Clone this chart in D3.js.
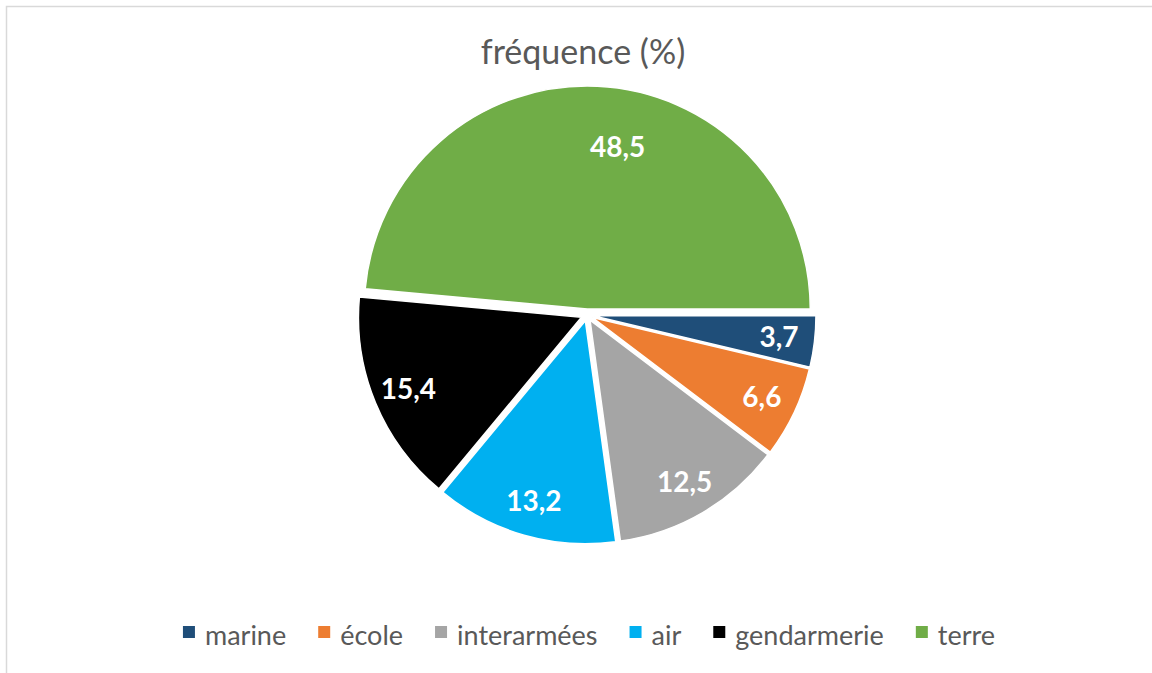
<!DOCTYPE html>
<html>
<head>
<meta charset="utf-8">
<script src="https://cdn.jsdelivr.net/npm/d3@7"></script>
<style>
  body { margin: 0; background: #fff; }
  text { font-family: Lato, "Open Sans", sans-serif; }
</style>
</head>
<body>
<div id="chart"></div>
<script>
const width = 1152
const height = 673

// data
const categories = ["marine", "école", "interarmées", "air", "gendarmerie", "terre"]
const values = [3.7, 6.6, 12.5, 13.2, 15.4, 48.5]
const colors = ["#1F4E79", "#ED7D31", "#A5A5A5", "#00B0F0", "#000000", "#70AD47"]
const title = "fréquence (%)"

const cx = 587
const cy = 315
const radius = 223
const explode = 6

const svg = d3.select("#chart").append("svg")
  .attr("width", width)
  .attr("height", height)

// chart frame
svg.append("rect")
  .attr("x", 6.5).attr("y", 6.5)
  .attr("width", 1200).attr("height", 800)
  .attr("fill", "#fff")
  .attr("stroke", "#d9d9d9")
  .attr("stroke-width", 1.5)

svg.append("text")
  .attr("x", 583)
  .attr("y", 64)
  .attr("text-anchor", "middle")
  .attr("fill", "#595959")
  .style("font-size", "34px")
  .text(title)

const data = categories.map((c, i) => ({ name: c, value: values[i], color: colors[i] }))

// first slice starts at 3 o'clock, clockwise
const pie = d3.pie()
  .value(d => d.value)
  .sort(null)
  .startAngle(Math.PI / 2)
  .endAngle(Math.PI / 2 + 2 * Math.PI)

const arc = d3.arc().innerRadius(0).outerRadius(radius)
const arcs = pie(data)

const g = svg.append("g").attr("transform", "translate(" + cx + "," + cy + ")")

function mid(d) { return (d.startAngle + d.endAngle) / 2 }

const slice = g.selectAll("g.slice")
  .data(arcs)
  .enter()
  .append("g")
  .attr("class", "slice")
  .attr("transform", function (d) {
    const a = mid(d)
    return "translate(" + (Math.sin(a) * explode) + "," + (-Math.cos(a) * explode) + ")"
  })

slice.append("path")
  .attr("d", arc)
  .attr("fill", d => d.data.color)
  .attr("stroke", "#fff")
  .attr("stroke-width", 1.5)

// labels near the outer edge; the large slice gets a nudge like Excel's best fit
function labelPos(d) {
  const big = d.data.value > 40
  const a = mid(d) + (big ? 0.14 : 0)
  const r = radius * (big ? 0.74 : 0.84)
  return [Math.sin(a) * r, -Math.cos(a) * r]
}

slice.append("text")
  .attr("x", d => labelPos(d)[0])
  .attr("y", d => labelPos(d)[1])
  .attr("dy", "0.35em")
  .attr("text-anchor", "middle")
  .attr("fill", "#fff")
  .style("font-size", "28px")
  .style("font-weight", "bold")
  .text(d => d3.format(".1f")(d.data.value).replace(".", ","))

// legend, centered under the pie
const legend = svg.append("g")
const items = legend.selectAll("g")
  .data(data)
  .enter()
  .append("g")

items.append("rect")
  .attr("width", 12)
  .attr("height", 12)
  .attr("y", -10)
  .attr("fill", d => d.color)

items.append("text")
  .attr("x", 22)
  .attr("y", 0)
  .attr("dy", "0.32em")
  .attr("fill", "#595959")
  .style("font-size", "27px")
  .text(d => d.name)

let pos = 0
items.each(function () {
  const w = d3.select(this).select("text").node().getComputedTextLength()
  d3.select(this).attr("transform", "translate(" + pos + ",0)")
  pos += 22 + w + 32
})
const total = pos - 32
legend.attr("transform", "translate(" + (589 - total / 2) + ",636)")
</script>
</body>
</html>
